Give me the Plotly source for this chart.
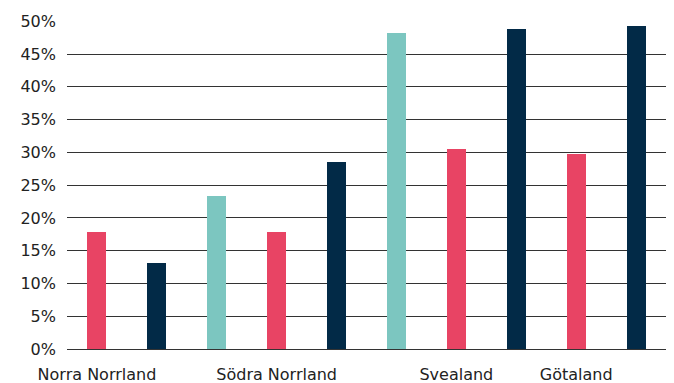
import plotly.graph_objects as go

# Data
regions = ["Norra Norrland", "Södra Norrland", "Svealand", "Götaland"]
series_names = ["Serie 1", "Serie 2", "Serie 3"]
teal_values = [None, 23.4, 48.2, None]
red_values = [17.9, 17.9, 30.5, 29.8]
navy_values = [13.1, 28.5, 48.8, 49.3]
y_ticks = [0, 5, 10, 15, 20, 25, 30, 35, 40, 45, 50]
y_tick_labels = ["0%", "5%", "10%", "15%", "20%", "25%", "30%", "35%", "40%", "45%", "50%"]

colors = ["#7CC6C0", "#E84464", "#022A47"]
all_series = [teal_values, red_values, navy_values]

# Bars are laid out sequentially; missing values take no slot.
# Each region label sits under its middle-series (red) bar.
xs = [[], [], []]
ys = [[], [], []]
label_pos = []
pos = 0
for gi, region in enumerate(regions):
    for si, vals in enumerate(all_series):
        v = vals[gi]
        if v is None:
            continue
        if si == 1:
            label_pos.append(pos)
        xs[si].append(pos)
        ys[si].append(v)
        pos += 1

fig = go.Figure()
for si in range(3):
    fig.add_trace(go.Bar(
        x=xs[si], y=ys[si], name=series_names[si],
        marker=dict(color=colors[si], line=dict(width=0)),
        width=0.317, showlegend=False,
    ))

font = dict(family="DejaVu Sans", size=16, color="#222222")
fig.update_layout(
    width=674, height=383,
    margin=dict(l=67, r=8, t=21, b=34),
    paper_bgcolor="white", plot_bgcolor="white",
    font=font, barmode="overlay", bargap=0,
)
fig.update_xaxes(
    range=[-0.5, pos - 0.5],
    tickmode="array", tickvals=label_pos, ticktext=regions,
    tickangle=0, automargin=False,
    showgrid=False, zeroline=False, showline=False,
    ticks="", tickfont=font, ticklabelstandoff=14,
)
fig.update_yaxes(
    range=[0, 50.05], automargin=False,
    tickmode="array", tickvals=y_ticks, ticktext=y_tick_labels,
    showgrid=True, gridcolor="#333333", gridwidth=1,
    zeroline=True, zerolinecolor="#333333", zerolinewidth=1,
    showline=False, ticks="", tickfont=font, ticklabelstandoff=10,
)

fig.write_html("out.html")
